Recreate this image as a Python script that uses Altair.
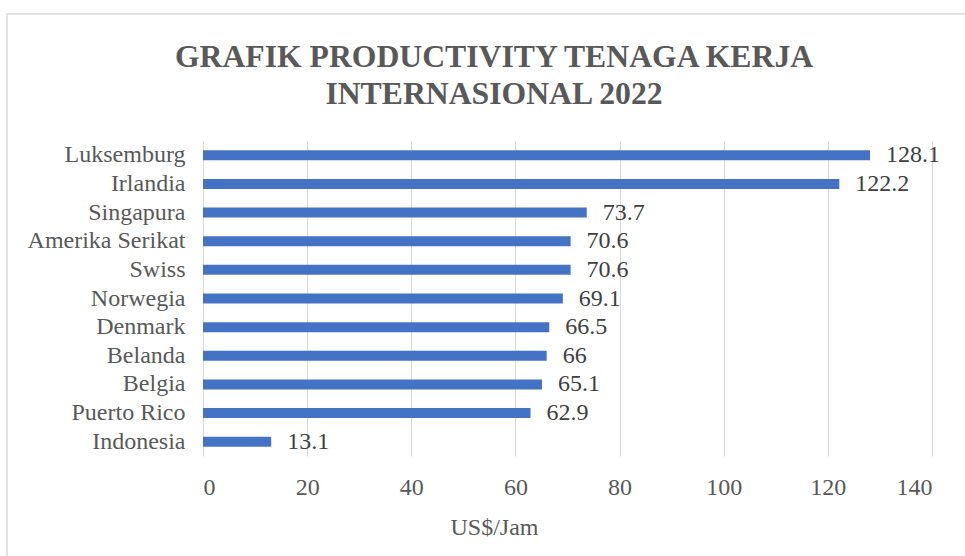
import altair as alt
import pandas as pd

countries = ["Luksemburg", "Irlandia", "Singapura", "Amerika Serikat", "Swiss",
             "Norwegia", "Denmark", "Belanda", "Belgia", "Puerto Rico", "Indonesia"]
values = [128.1, 122.2, 73.7, 70.6, 70.6, 69.1, 66.5, 66, 65.1, 62.9, 13.1]
x_ticks = [0, 20, 40, 60, 80, 100, 120, 140]

df = pd.DataFrame({"negara": countries, "nilai": values})
FONT = "Liberation Serif"
GRAY = "#595959"
FS = 24

y_enc = alt.Y("negara:N", sort=countries,
              scale=alt.Scale(paddingInner=0, paddingOuter=0),
              axis=alt.Axis(title=None, ticks=False, domain=False, labelFont=FONT,
                            labelFontSize=FS, labelColor=GRAY, labelPadding=18))
x_enc = alt.X("nilai:Q", scale=alt.Scale(domain=[0, 140], nice=False),
              axis=alt.Axis(values=x_ticks, title="US$/Jam", grid=True, gridColor="#d9d9d9",
                            domain=False, ticks=False, tickSize=0, labelFont=FONT,
                            labelFontSize=FS, labelColor=GRAY, labelPadding=31,
                            labelBaseline="middle", titleFont=FONT, titleFontSize=FS,
                            titleColor=GRAY, titleFontWeight="normal", titleX=291,
                            titleY=71, titleBaseline="middle", titleAnchor="start",
                            titleAlign="center"))

bars = alt.Chart(df).mark_bar(size=10, color="#4472C4").encode(x=x_enc, y=y_enc)
labels = alt.Chart(df).mark_text(align="left", baseline="middle", dx=16, font=FONT,
                                 fontSize=FS, color="#404040").encode(
    x="nilai:Q", y=alt.Y("negara:N", sort=countries), text="nilai:Q")

border = alt.Chart(pd.DataFrame({"a": [0]})).mark_rect(
    fill=None, stroke="#d9d9d9", strokeWidth=1.5).encode(
    x=alt.value(-196), x2=alt.value(775), y=alt.value(-127), y2=alt.value(430))

chart = alt.layer(border, bars, labels).properties(
    width=729, height=315,
    title=alt.TitleParams(
        text=["GRAFIK PRODUCTIVITY TENAGA KERJA", "INTERNASIONAL 2022"],
        anchor="middle", dx=-73.5, fontSize=31.7, font=FONT, fontWeight="bold",
        color=GRAY, lineHeight=37, offset=-97),
    autosize=alt.AutoSizeParams(type="none"),
    padding={"left": 203, "top": 141, "right": 33, "bottom": 100},
).configure_view(stroke=None)

chart.save("out.html", embed_options={"renderer": "svg", "actions": False})
